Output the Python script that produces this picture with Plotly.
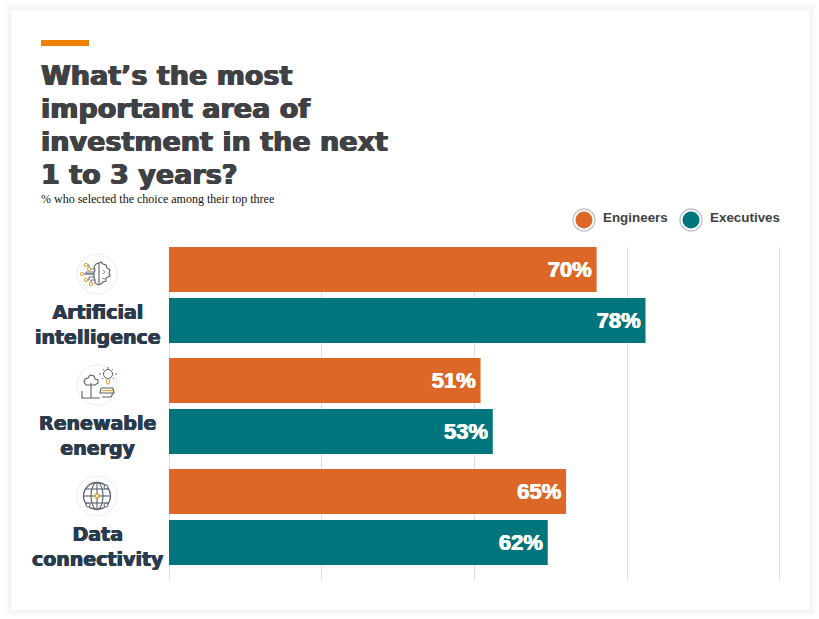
import plotly.graph_objects as go

categories = ["Artificial<br>intelligence", "Renewable<br>energy", "Data<br>connectivity"]
engineers = [70, 51, 65]
executives = [78, 53, 62]
series_names = ["Engineers", "Executives"]
title_lines = ["What’s the most", "important area of", "investment in the next", "1 to 3 years?"]
subtitle = "% who selected the choice among their top three"

W, H = 819, 619
ORANGE, TEAL = "#DC6726", "#00757B"
DARK = "#404145"
SLATE = "#2B3B4E"
ICON = "#56606C"
AMBER = "#EFA030"

def px(x): return x / W
def py(y): return 1 - y / H

def heavy(col, d=0.5):
    return f"{d}px 0 0 {col}, -{d}px 0 0 {col}, 0 {d/2}px 0 {col}"

shapes, annotations = [], []

def rect(x0, y0, x1, y1, fill, opacity=1, layer="below"):
    shapes.append(dict(type="rect", xref="paper", yref="paper", x0=px(x0), x1=px(x1), y0=py(y0), y1=py(y1),
                       fillcolor=fill, opacity=opacity, line_width=0, layer=layer))

def circle(cx, cy, r, fill="rgba(0,0,0,0)", line="rgba(0,0,0,0)", lw=1):
    shapes.append(dict(type="circle", xref="paper", yref="paper", x0=px(cx-r), x1=px(cx+r), y0=py(cy+r), y1=py(cy-r),
                       fillcolor=fill, line=dict(color=line, width=lw), layer="above"))

def poly(cx, cy, pts, color=ICON, lw=1.1):
    d = "M" + " L".join(f"{px(cx+a):.5f},{py(cy+b):.5f}" for a, b in pts)
    shapes.append(dict(type="path", xref="paper", yref="paper", path=d, line=dict(color=color, width=lw), layer="above"))

# card and soft shadow
for g, op in [(7, .008), (5, .012), (3, .016), (1, .02)]:
    rect(11-g, 10-g, 810+g, 610+g, "#000000", op)
rect(11, 10, 810, 610, "#FFFFFF")
rect(41, 40, 89, 46, "#EF8200")

# icon discs
icon_y = [274, 385, 496]
for cy in icon_y:
    circle(97, cy, 20, "#FFFFFF", "#ECECEC", 1)

# brain
c = icon_y[0]
poly(97, c, [(2,-11),(-1,-10),(-3,-7),(-2,-4),(-3,-1),(-3,3),(-2,6),(-2,9),(1,11),(4,10),(6,8),(9,7),(9,4),(13,2),(12,-1),(13,-4),(10,-6),(9,-9),(6,-10),(4,-12),(2,-11),(2,11)], ICON)
poly(97, c, [(-3,-5),(-8,-5),(-8,-9),(-10,-9)], ICON, .9)
poly(97, c, [(-3,-2),(-11,-2),(-11,0),(-3,0)], ICON, .9)
poly(97, c, [(-14,0),(-3,0)], ICON, .9)
poly(97, c, [(-3,3),(-8,3),(-8,6),(-10,6)], ICON, .9)
poly(97, c, [(-2,6),(-6,6),(-6,10),(-4,10)], ICON, .9)
poly(97, c, [(6,-4),(8,-2),(6,0)], ICON, .8)
poly(97, c, [(5,4),(8,5)], ICON, .8)
for a, b in [(-11,-9),(-15,0),(-11,6),(-8,-5),(-6,10)]:
    circle(97+a, c+b, 1.7, "#FFFFFF", AMBER, 1)

# renewable
c = icon_y[1]
poly(97, c, [(-6,13),(-6,-2)], ICON)
poly(97, c, [(-6,0),(-11,0),(-13,-3),(-12,-6),(-9,-7),(-7,-10),(-3,-9),(-2,-6),(1,-5),(1,-2),(-2,0),(-6,0)], ICON)
poly(97, c, [(-15,6),(-15,13),(3,13)], ICON)
poly(97, c, [(4,3),(16,3),(17,8),(3,8),(4,3)], ICON)
poly(97, c, [(5,5.5),(16,5.5)], AMBER, 1.3)
poly(97, c, [(5,12),(14,12),(16,8)], ICON)
circle(108, c-11, 4.5, "#FFFFFF", ICON, 1)
poly(97, c, [(9,-7),(10,-1),(12,-1),(13,-7)], AMBER, 1)
for p in [[(11,-18),(11,-16)], [(4,-11),(2,-11)], [(18,-11),(20,-11)], [(6,-16),(7,-15)], [(16,-16),(15,-15)], [(5,-6),(6,-7)], [(17,-6),(16,-7)]]:
    poly(97, c, p, ICON, .9)

# globe
c = icon_y[2]
circle(97, c, 13.5, "rgba(0,0,0,0)", ICON, 1.3)
shapes.append(dict(type="circle", xref="paper", yref="paper", x0=px(97-6), x1=px(97+6), y0=py(c+13.5), y1=py(c-13.5),
                   line=dict(color=ICON, width=1.1), layer="above"))
poly(97, c, [(0,-13.5),(0,13.5)])
poly(97, c, [(-13.5,0),(13.5,0)])
poly(97, c, [(-11,-7),(11,-7)])
poly(97, c, [(-11,7),(11,7)])
for a, b in [(-9,9),(9,-9),(9,9)]:
    circle(97+a, c+b, 2, "#FFFFFF", ICON, 1)
circle(97, c, 2, "#FFFFFF", AMBER, 1.4)

# legend
for cx, col, name, tx in [(584, ORANGE, series_names[0], 600.5), (691, TEAL, series_names[1], 708)]:
    circle(cx, 220, 11, "#FFFFFF", "#C4C4C4", 1.3)
    circle(cx, 220, 8.5, col, col, 0)
    annotations.append(dict(text=name, xref="paper", yref="paper", x=px(tx), y=py(218), xanchor="left", yanchor="middle",
                            showarrow=False, font=dict(family="Liberation Sans", size=13.4, color=DARK, weight="bold")))

# title
for i, line in enumerate(title_lines):
    annotations.append(dict(text=line, xref="paper", yref="paper", x=px(41), y=py(75 + i*33), xanchor="left", yanchor="middle",
                            showarrow=False, xshift=-2, font=dict(family="DejaVu Sans", size=27, color=DARK, weight="bold", shadow=heavy(DARK, 0.7))))
annotations.append(dict(text=subtitle, xref="paper", yref="paper", x=px(41), y=py(199), xanchor="left", yanchor="middle",
                        showarrow=False, xshift=-2, font=dict(family="Liberation Serif", size=12, color="#111111")))

# category labels
label_y = [324.5, 435.5, 546.5]
for cat, ly in zip(categories, label_y):
    annotations.append(dict(text=cat, xref="paper", yref="paper", x=px(97.5), y=py(ly), xanchor="center", yanchor="middle",
                            align="center", showarrow=False,
                            font=dict(family="DejaVu Sans", size=19, color=SLATE, weight="bold", shadow=heavy(SLATE, 0.5))))

fig = go.Figure()
band = 111.0
bar_w = 45 / band
for name, vals, col, off in [(series_names[0], engineers, ORANGE, -0.5), (series_names[1], executives, TEAL, -0.5 + 51 / band)]:
    fig.add_bar(name=name, y=categories, x=vals, orientation="h", marker=dict(color=col, line_width=0),
                width=bar_w, offset=off, text=[f"{v}%\u200a" for v in vals], textposition="inside", insidetextanchor="end",
                constraintext="none", textangle=0, cliponaxis=False,
                textfont=dict(family="Liberation Sans", size=22, color="#FFFFFF", weight="bold", shadow=heavy("#FFFFFF", 0.4)), hoverinfo="skip")

fig.update_layout(width=W, height=H, margin=dict(l=0, r=0, t=0, b=0), autosize=False, showlegend=False, barmode="overlay",
                  paper_bgcolor="#FFFFFF", plot_bgcolor="rgba(0,0,0,0)", shapes=shapes, annotations=annotations,
                  xaxis=dict(domain=[px(169), px(781.1)], range=[0, 100.2], tick0=0, dtick=25, showticklabels=False, ticks="",
                             showgrid=True, gridcolor="#DEDEDE", gridwidth=1, zeroline=True, zerolinecolor="#DEDEDE", zerolinewidth=1, showline=False),
                  yaxis=dict(domain=[py(580), py(247)], autorange=False, range=[2.5, -0.5], type="category", categoryorder="array", categoryarray=categories,
                             showticklabels=False, ticks="", showgrid=False, zeroline=False, showline=False))
fig.write_html("out.html", config=dict(displayModeBar=False),
               post_script="document.body.style.margin='0';")
